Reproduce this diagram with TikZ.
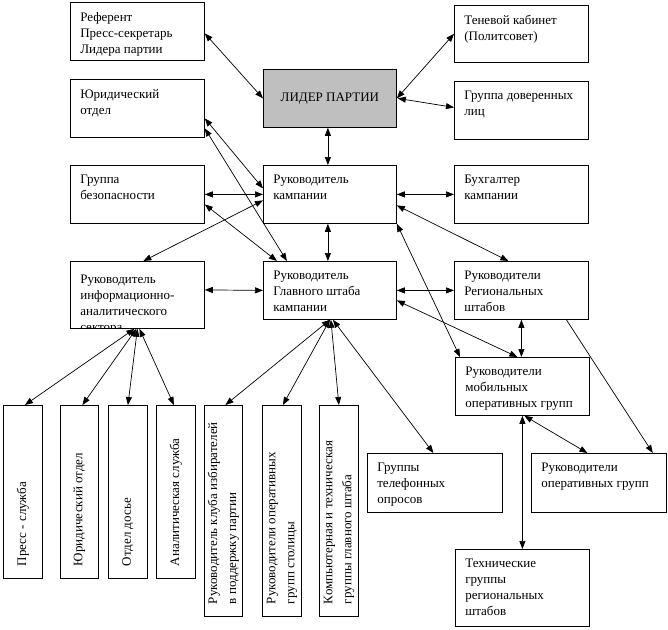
\documentclass[tikz,border=0pt]{standalone}
\usepackage{fontspec}
\setmainfont{Liberation Serif}
\usetikzlibrary{arrows.meta}
\tikzstyle{unittext} = [anchor=north west, align=left, inner sep=0pt, minimum width=0pt, minimum height=0pt, font=\fontsize{13}{16}\selectfont]
\tikzstyle{slottext} = [rotate=90, anchor=west, align=left, inner sep=0pt, minimum width=0pt, minimum height=0pt, font=\fontsize{13}{19}\selectfont]
\tikzset{unit/.style={rectangle, draw=black, line width=0.8pt, anchor=north west, minimum width=134pt, minimum height=58pt, inner sep=0pt,
    path picture={\node[unittext] at ([xshift=9.5pt,yshift=-9.5pt]path picture bounding box.north west) {#1};}}}
\tikzset{slot/.style={rectangle, draw=black, line width=0.8pt, anchor=north west, minimum width=38pt, minimum height=211pt, inner sep=0pt,
    path picture={\node[slottext] at ([yshift=12pt]path picture bounding box.south) {#1};}}}
\tikzstyle{chief} = [rectangle, draw=black, line width=0.8pt, fill=gray!50, anchor=north west, minimum width=133pt, minimum height=58pt, inner sep=0pt, font=\fontsize{13}{16}\selectfont]
\tikzstyle{link} = [line width=0.7pt, <->, >={Triangle[length=8pt,width=6pt]}]
\tikzstyle{oneway} = [line width=0.7pt, ->, >={Triangle[length=8pt,width=6pt]}]

\begin{document}
\begin{tikzpicture}[x=1pt, y=-1pt]
\useasboundingbox (0,0) rectangle (668,629);

% centre column
\node (leader) [chief] at (263,69) {ЛИДЕР ПАРТИИ};
\node (camp) [unit={Руководитель\\кампании}, minimum width=133pt] at (263,165) {};
\node (hq) [unit={Руководитель\\Главного штаба\\кампании}, minimum width=133pt] at (263,261) {};

% left column
\node (ref) [unit={Референт\\Пресс-секретарь\\Лидера партии}] at (70,2) {};
\node (jur) [unit={Юридический\\отдел}] at (70,79) {};
\node (guard) [unit={Группа\\безопасности}] at (70,165) {};
\node (info) [unit={\rule{0pt}{12pt}Руководитель\\информационно-\\аналитического\\сектора}, minimum height=67pt] at (70,261) {};

% right column
\node (shadow) [unit={Теневой кабинет\\(Политсовет)}, minimum height=57pt] at (454,5) {};
\node (trust) [unit={Группа доверенных\\лиц}] at (454,81) {};
\node (acct) [unit={Бухгалтер\\кампании}] at (454,165) {};
\node (reg) [unit={Руководители\\Региональных\\штабов}] at (454,261) {};
\node (mob) [unit={Руководители\\мобильных\\оперативных групп}] at (455,357) {};
\node (phone) [unit={Группы\\телефонных\\опросов}, minimum width=135pt, minimum height=59pt] at (367,453) {};
\node (opgr) [unit={Руководители\\оперативных групп}, minimum width=135pt, minimum height=59pt] at (531,453) {};
\node (tech) [unit={Технические\\группы\\региональных\\штабов}, minimum height=77pt] at (455,549) {};

% vertical boxes
\node (press) [slot={Пресс - служба}, minimum width=39pt, minimum height=173pt] at (3,405) {};
\node (jurv) [slot={Юридический отдел}, minimum height=173pt] at (60,405) {};
\node (dossier) [slot={Отдел досье}, minimum width=39pt, minimum height=173pt] at (108,405) {};
\node (anal) [slot={Аналитическая служба}, minimum width=39pt, minimum height=173pt] at (156,405) {};
\node (club) [slot={Руководитель клуба избирателей\\в поддержку партии}] at (204,405) {};
\node (capgr) [slot={Руководители оперативных\\групп столицы}, minimum width=39pt] at (262,405) {};
\node (comp) [slot={Компьютерная и техническая\\группы главного штаба}, minimum width=39pt] at (319,405) {};

% links
\draw [link] ([yshift=-2pt]ref.east) -- (leader.west);
\draw [link] (leader.east) -- (shadow.west);
\draw [link] ([xshift=1pt]leader.east) -- ([yshift=3pt]trust.west);
\draw [link] ([xshift=-2pt]leader.south) -- ([xshift=-2pt]camp.north);
\draw [link] ([xshift=-2pt]camp.south) -- ([xshift=-2pt]hq.north);
\draw [link] (camp.east) -- (acct.west);
\draw [link] ([yshift=-11pt]camp.east) -- ([xshift=-13pt]reg.north);
\draw [link] (hq.east) -- (reg.west);
\draw [link] ([yshift=-10pt]hq.east) -- ([xshift=-5pt]mob.north);
\draw [link] (camp.south east) -- ([xshift=5pt]mob.north west);
\draw [link] (reg.south) -- ([xshift=-1pt]mob.north);
\draw [oneway] ([xshift=45pt]reg.south) -- ([xshift=-14pt]opgr.north east);
\draw [link] (mob.south) -- (tech.north);
\draw [link] ([xshift=2pt]mob.south) -- ([xshift=-11.5pt]opgr.north);
\draw [link] ([xshift=3pt]hq.south) -- ([xshift=-1.5pt]phone.north);
\draw [link] (hq.south) -- ([xshift=2pt]club.north);
\draw [link] (hq.south) -- ([xshift=1pt]capgr.north);
\draw [link] ([xshift=1pt]hq.south) -- (comp.north);
\draw [link] ([xshift=-3pt]info.south) -- ([xshift=2pt]press.north);
\draw [link] ([xshift=-1pt]info.south) -- ([xshift=3pt]jurv.north);
\draw [link] (info.south) -- (dossier.north);
\draw [link] ([xshift=2pt]info.south) -- ([xshift=-2pt]anal.north);
\draw [link] (guard.east) -- (camp.west);
\draw [link] ([yshift=5pt]info.east) -- (hq.west);
\draw [link] ([yshift=-10pt]jur.east) -- ([yshift=6pt]camp.west);
\draw [link] ([yshift=-20pt]jur.east) -- ([xshift=-43pt]hq.north);
\draw [link] ([yshift=-10pt]guard.east) -- ([xshift=-53pt]hq.north);
\draw [link] ([yshift=-6pt]camp.west) -- ([xshift=6pt]info.north);
\end{tikzpicture}
\end{document}
